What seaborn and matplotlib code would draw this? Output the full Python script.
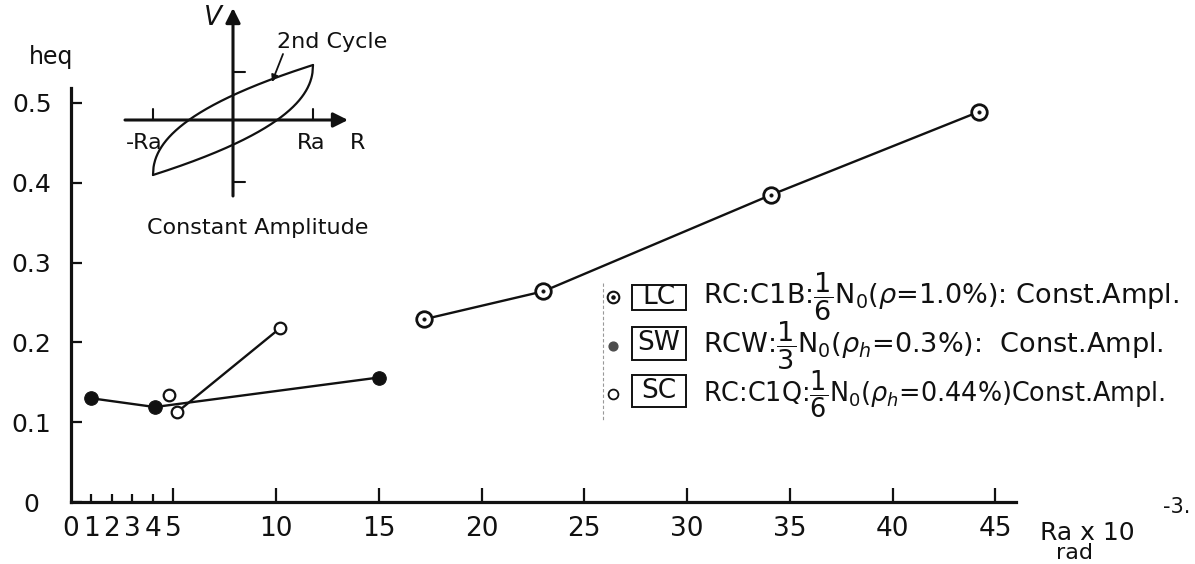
import numpy as np
import matplotlib
matplotlib.use("Agg")
import matplotlib.pyplot as plt
import seaborn as sns
from matplotlib.patches import Rectangle

# Equivalent damping factor heq against rotation amplitude Ra (x 10^-3 rad)
lc_ra = [17.2, 23.0, 34.1, 44.2]
lc_heq = [0.229, 0.264, 0.385, 0.489]
sw_ra = [1.0, 4.1, 15.0]
sw_heq = [0.130, 0.119, 0.156]
sc_ra = [4.8, 5.2, 10.2]
sc_heq = [0.134, 0.113, 0.218]

x_ticks = [0, 1, 2, 3, 4, 5, 10, 15, 20, 25, 30, 35, 40, 45]
x_tick_labels = [str(t) for t in x_ticks]
y_ticks = [0, 0.1, 0.2, 0.3, 0.4, 0.5]
y_tick_labels = ["0", "0.1", "0.2", "0.3", "0.4", "0.5"]

legend_keys = ["LC", "SW", "SC"]
legend_texts = [
    r"RC:C1B:$\dfrac{1}{6}$N$_0$($\rho$=1.0%): Const.Ampl.",
    r"RCW:$\dfrac{1}{3}$N$_0$($\rho_h$=0.3%):  Const.Ampl.",
    r"RC:C1Q:$\dfrac{1}{6}$N$_0$($\rho_h$=0.44%)Const.Ampl.",
]
legend_sizes = [19.5, 19.5, 18.4]

W, H = 1195, 564
ink = "#111111"

sns.set_theme(style="white")
plt.rcParams["font.family"] = ["DejaVu Sans"]
plt.rcParams["mathtext.fontset"] = "dejavusans"

fig = plt.figure(figsize=(W / 100, H / 100), dpi=100)


def fbox(x0, y0, x1, y1):
    """pixel box (top-left origin) -> figure fraction rect"""
    return [x0 / W, 1 - y1 / H, (x1 - x0) / W, (y1 - y0) / H]


ax = fig.add_axes(fbox(70.6, 88, 70.6 + 46 * 20.55, 502))
ax.set_xlim(0, 46)
ax.set_ylim(0, (502 - 88) / 798)
ax.set_facecolor("white")
for side in ("top", "right"):
    ax.spines[side].set_visible(False)
for side in ("left", "bottom"):
    ax.spines[side].set_color(ink)
    ax.spines[side].set_linewidth(2.3)

# series lines
sns.lineplot(x=sw_ra, y=sw_heq, ax=ax, color=ink, lw=1.7, sort=False, zorder=2)
sns.lineplot(x=sc_ra[1:], y=sc_heq[1:], ax=ax, color=ink, lw=1.7, sort=False, zorder=2)
sns.lineplot(x=lc_ra, y=lc_heq, ax=ax, color=ink, lw=1.7, sort=False, zorder=2)

# markers
sns.scatterplot(x=sw_ra, y=sw_heq, ax=ax, color=ink, edgecolor=ink, s=95, zorder=3)
sns.scatterplot(x=sc_ra, y=sc_heq, ax=ax, color="white", edgecolor=ink,
                linewidth=1.6, s=70, zorder=3)
sns.scatterplot(x=lc_ra, y=lc_heq, ax=ax, color="white", edgecolor=ink,
                linewidth=2.0, s=125, zorder=3)
sns.scatterplot(x=lc_ra, y=lc_heq, ax=ax, color=ink, edgecolor=ink, s=7, zorder=4)

ax.set_xticks(x_ticks)
ax.set_xticklabels(x_tick_labels)
ax.set_yticks(y_ticks)
ax.set_yticklabels(y_tick_labels, ha="center")
ax.tick_params(axis="x", direction="in", length=10, width=1.6, color=ink,
               labelsize=19, labelcolor=ink, pad=10, bottom=True)
ax.tick_params(axis="y", direction="in", length=8, width=1.6, color=ink,
               labelsize=18, labelcolor=ink, pad=28, left=True)
for tick, v in zip(ax.xaxis.get_major_ticks(), x_ticks):
    if v == 0:
        tick.tick1line.set_markersize(0)
    elif v < 5:
        tick.tick1line.set_markersize(6)
ax.set_xlabel("")
ax.set_ylabel("")

# overlay in pixel coordinates for the annotations
ov = fig.add_axes([0, 0, 1, 1])
ov.set_xlim(0, W)
ov.set_ylim(H, 0)
ov.axis("off")

ov.text(51, 57, "heq", fontsize=17, color=ink, ha="center", va="center")
ov.text(1040, 533, "Ra x 10", fontsize=18, color=ink, ha="left", va="center")
ov.text(1163, 507, "-3.", fontsize=15, color=ink, ha="left", va="center")
ov.text(1075, 553, "rad", fontsize=16, color=ink, ha="center", va="center")

# hysteresis sketch
ox, oy, su, sv = 233, 120, 80, 55
u = np.linspace(-1, 1, 300)
upper = 2 * ((1 + u) / 2) ** 0.464 - 1
lower = -(2 * ((1 - u) / 2) ** 0.464 - 1)
ov.plot(ox + su * u, oy - sv * upper, color=ink, lw=1.6)
ov.plot(ox + su * u, oy - sv * lower, color=ink, lw=1.6)
ov.annotate("", xy=(348, oy), xytext=(125, oy),
            arrowprops=dict(arrowstyle="-|>", lw=2.2, color=ink, mutation_scale=22,
                            shrinkA=0, shrinkB=0))
ov.annotate("", xy=(ox, 8), xytext=(ox, 196),
            arrowprops=dict(arrowstyle="-|>", lw=2.2, color=ink, mutation_scale=22,
                            shrinkA=0, shrinkB=0))
for px in (ox - su, ox + su):
    ov.plot([px, px], [oy, oy - 11], color=ink, lw=1.5)
for py in (72, 182):
    ov.plot([ox, ox + 12], [py, py], color=ink, lw=1.5)
ov.text(213, 18, "V", fontsize=19, style="italic", color=ink, ha="center", va="center")
ov.text(332, 42, "2nd Cycle", fontsize=16, color=ink, ha="center", va="center")
ov.annotate("", xy=(272, 82), xytext=(283, 54),
            arrowprops=dict(arrowstyle="-|>", lw=1.3, color=ink, mutation_scale=10,
                            shrinkA=0, shrinkB=0))
ov.text(144, 143, "-Ra", fontsize=16, color=ink, ha="center", va="center")
ov.text(311, 143, "Ra", fontsize=16, color=ink, ha="center", va="center")
ov.text(358, 143, "R", fontsize=16, color=ink, ha="center", va="center")
ov.text(258, 228, "Constant Amplitude", fontsize=16, color=ink, ha="center", va="center")

# legend
ov.plot([603, 603], [283, 420], color="0.6", lw=0.8, ls=(0, (3, 2)))
rows = [297, 346, 394]
ov.scatter([613], [rows[0]], s=70, facecolor="white", edgecolor=ink, linewidth=1.5, zorder=5)
ov.scatter([613], [rows[0]], s=5, color=ink, zorder=6)
ov.scatter([613], [rows[1]], s=40, color="0.3", zorder=5)
ov.scatter([613], [rows[2]], s=50, facecolor="white", edgecolor=ink, linewidth=1.3, zorder=5)
box_h = [(285, 310), (327, 360), (375, 407)]
for key, (y0, y1), txt, fs, yc in zip(legend_keys, box_h, legend_texts, legend_sizes, rows):
    ov.add_patch(Rectangle((632, y0), 54, y1 - y0, fill=False, lw=1.4, ec=ink))
    ov.text(659, (y0 + y1) / 2, key, fontsize=19, color=ink, ha="center", va="center")
    ov.text(703, yc, txt, fontsize=fs, color=ink, ha="left", va="center")

fig.savefig("out.png", dpi=100, facecolor="white")
